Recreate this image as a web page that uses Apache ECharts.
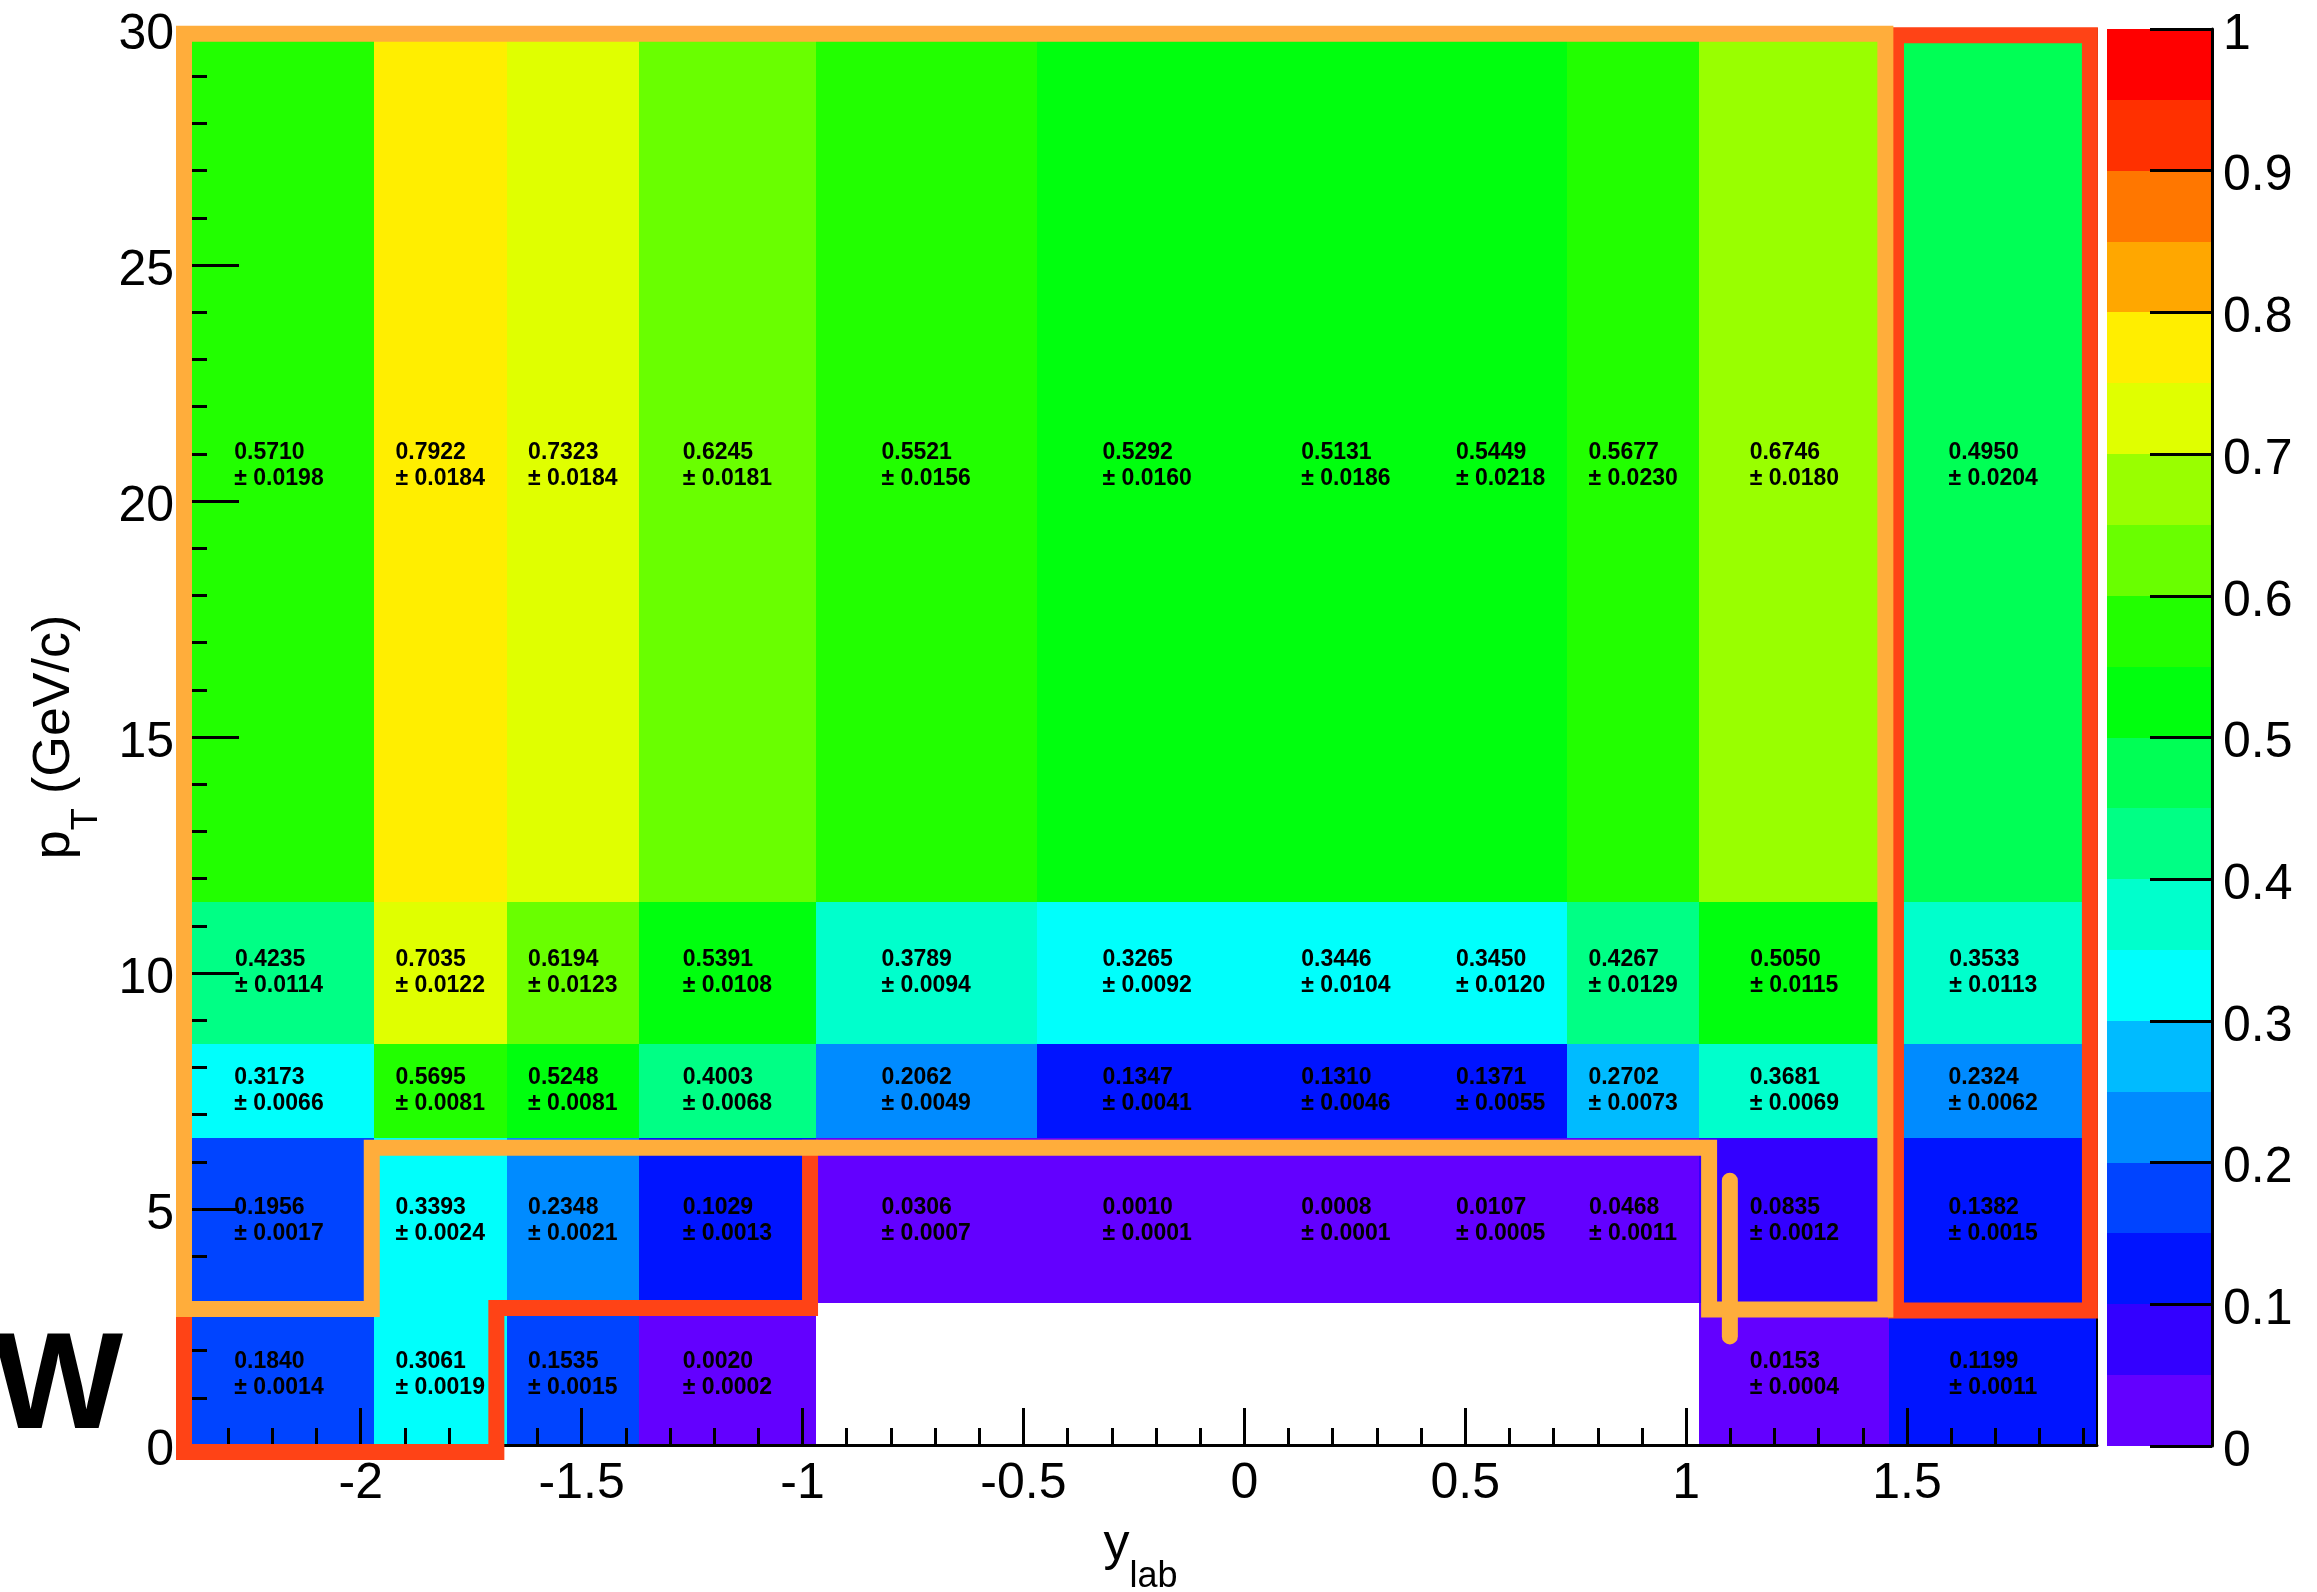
<!DOCTYPE html>
<html><head><meta charset="utf-8">
<script src="https://cdn.jsdelivr.net/npm/echarts@6/dist/echarts.min.js"></script>
<style>html,body{margin:0;padding:0;background:#fff}#c{width:2317px;height:1592px}</style>
</head><body><div id="c"></div>
<script>
// ---- data ----
const yLabEdges = [-2.40, -1.97, -1.67, -1.37, -0.97, -0.47, 0.03, 0.43, 0.73, 1.03, 1.46, 1.93];
const ptEdges = [0, 3, 6.5, 8.5, 11.5, 30];
// rows ordered from low pT to high pT; null = empty bin
const effPt0to3    = [0.1840, 0.3061, 0.1535, 0.0020, null, null, null, null, null, 0.0153, 0.1199];
const errPt0to3    = [0.0014, 0.0019, 0.0015, 0.0002, null, null, null, null, null, 0.0004, 0.0011];
const effPt3to6p5  = [0.1956, 0.3393, 0.2348, 0.1029, 0.0306, 0.0010, 0.0008, 0.0107, 0.0468, 0.0835, 0.1382];
const errPt3to6p5  = [0.0017, 0.0024, 0.0021, 0.0013, 0.0007, 0.0001, 0.0001, 0.0005, 0.0011, 0.0012, 0.0015];
const effPt6p5to8p5 = [0.3173, 0.5695, 0.5248, 0.4003, 0.2062, 0.1347, 0.1310, 0.1371, 0.2702, 0.3681, 0.2324];
const errPt6p5to8p5 = [0.0066, 0.0081, 0.0081, 0.0068, 0.0049, 0.0041, 0.0046, 0.0055, 0.0073, 0.0069, 0.0062];
const effPt8p5to11p5 = [0.4235, 0.7035, 0.6194, 0.5391, 0.3789, 0.3265, 0.3446, 0.3450, 0.4267, 0.5050, 0.3533];
const errPt8p5to11p5 = [0.0114, 0.0122, 0.0123, 0.0108, 0.0094, 0.0092, 0.0104, 0.0120, 0.0129, 0.0115, 0.0113];
const effPt11p5to30 = [0.5710, 0.7922, 0.7323, 0.6245, 0.5521, 0.5292, 0.5131, 0.5449, 0.5677, 0.6746, 0.4950];
const errPt11p5to30 = [0.0198, 0.0184, 0.0184, 0.0181, 0.0156, 0.0160, 0.0186, 0.0218, 0.0230, 0.0180, 0.0204];

const xMajorTicks = [-2, -1.5, -1, -0.5, 0, 0.5, 1, 1.5];
const xMinorTicks = [-2.3,-2.2,-2.1,-1.9,-1.8,-1.7,-1.6,-1.4,-1.3,-1.2,-1.1,-0.9,-0.8,-0.7,-0.6,-0.4,-0.3,-0.2,-0.1,
                     0.1,0.2,0.3,0.4,0.6,0.7,0.8,0.9,1.1,1.2,1.3,1.4,1.6,1.7,1.8,1.9];
const zLevels = [0,0.05,0.1,0.15,0.2,0.25,0.3,0.35,0.4,0.45,0.5,0.55,0.6,0.65,0.7,0.75,0.8,0.85,0.9,0.95,1];

// outlines (data coordinates: [y_lab, pT])
const orangeOutline = [[-2.4,29.9],[1.451,29.9],[1.451,2.87],[1.052,2.87],[1.052,6.3],[-1.975,6.3],[-1.975,2.88],[-2.4,2.88],[-2.4,29.9]];
const orangeSpur = [[1.099,5.6],[1.099,2.3]];
const redOutlineFwd = [[1.475,29.87],[1.914,29.87],[1.914,2.85],[1.475,2.85],[1.475,29.87]];
const redOutlineBwd = [[-2.4,2.85],[-2.4,-0.15],[-1.693,-0.15],[-1.693,2.9],[-0.983,2.9],[-0.983,6.3]];

// ---- styles ----
const palette = ['#6300ff','#3300ff','#0014ff','#0044ff','#008bff','#00bbff','#00fffc','#00ffcc','#00ff85','#00ff55',
                 '#00ff0e','#22ff00','#69ff00','#99ff00','#e0ff00','#ffee00','#ffa700','#ff7700','#ff3000','#ff0000'];
const FONT = '"Liberation Sans", Arial, Helvetica, sans-serif';
const CELL_FONT = 'bold 23px "Liberation Sans", Arial, sans-serif';

const effRows = [effPt0to3, effPt3to6p5, effPt6p5to8p5, effPt8p5to11p5, effPt11p5to30];
const errRows = [errPt0to3, errPt3to6p5, errPt6p5to8p5, errPt8p5to11p5, errPt11p5to30];
const cellData = [];
effRows.forEach((row, j) => row.forEach((v, i) => {
  if (v == null) return;
  cellData.push([yLabEdges[i], yLabEdges[i + 1], ptEdges[j], ptEdges[j + 1], v, errRows[j][i]]);
}));
const barData = [];
for (let i = 0; i < zLevels.length - 1; i++) barData.push([0, 1, zLevels[i], zLevels[i + 1], i]);

function colorFor(v) {
  for (let i = 0; i < zLevels.length - 1; i++) if (v >= zLevels[i] && v < zLevels[i + 1]) return palette[i];
  return palette[palette.length - 1];
}
const mctx = document.createElement('canvas').getContext('2d');
mctx.font = CELL_FONT;
function measure(t) { return mctx.measureText(t).width; }

function rectFrom(a, b) {
  const x0 = Math.round(a[0]), x1 = Math.round(b[0]), y0 = Math.round(a[1]), y1 = Math.round(b[1]);
  return {x: x0, y: y1, width: x1 - x0, height: y0 - y1};
}
function renderCell(params, api) {
  const a = api.coord([api.value(0), api.value(2)]);
  const b = api.coord([api.value(1), api.value(3)]);
  const v = api.value(4), e = api.value(5);
  const cx = (a[0] + b[0]) / 2, cy = (a[1] + b[1]) / 2;
  const t1 = v.toFixed(4), t2 = '\u00b1 ' + e.toFixed(4);
  const lx = cx - measure(t2) / 2;
  return {type: 'group', children: [
    {type: 'rect', shape: rectFrom(a, b), style: {fill: colorFor(v)}},
    {type: 'text', style: {text: t1, x: lx, y: cy - 13, font: CELL_FONT, fill: '#000', align: 'left', verticalAlign: 'middle'}},
    {type: 'text', style: {text: t2, x: lx, y: cy + 13, font: CELL_FONT, fill: '#000', align: 'left', verticalAlign: 'middle'}}
  ]};
}
function renderBar(params, api) {
  const a = api.coord([api.value(0), api.value(2)]);
  const b = api.coord([api.value(1), api.value(3)]);
  return {type: 'rect', shape: rectFrom(a, b), style: {fill: palette[api.value(4)]}};
}

const richTitle = {
  m: {fontSize: 52, lineHeight: 52, verticalAlign: 'top', fontFamily: FONT, color: '#000'},
  s: {fontSize: 36, lineHeight: 36, verticalAlign: 'top', padding: [40, 0, 0, 0], fontFamily: FONT, color: '#000'}
};

const chart = echarts.init(document.getElementById('c'), null, {renderer: 'canvas'});
chart.setOption({
  animation: false,
  backgroundColor: '#fff',
  grid: [
    {left: 184, right: 220, top: 29, bottom: 147, containLabel: false, outerBoundsMode: 'none'},
    {left: 2107, right: 105, top: 29, bottom: 146, containLabel: false, outerBoundsMode: 'none'}
  ],
  xAxis: [
    {gridIndex: 0, type: 'value', min: -2.4, max: 1.93, position: 'bottom', z: 5,
     axisLine: {show: true, onZero: false, lineStyle: {color: '#000', width: 3}},
     axisTick: {show: true, inside: true, length: 37, customValues: xMajorTicks, lineStyle: {color: '#000', width: 3}},
     axisLabel: {show: true, customValues: xMajorTicks, margin: 14, fontSize: 50, color: '#000', fontFamily: FONT},
     splitLine: {show: false},
     name: '{m|y}{s|lab}', nameLocation: 'middle', nameGap: 74,
     nameTextStyle: {fontFamily: FONT, color: '#000', rich: richTitle}},
    {gridIndex: 0, type: 'value', min: -2.4, max: 1.93, position: 'bottom', z: 5,
     axisLine: {show: false, onZero: false},
     axisTick: {show: true, inside: true, length: 17, customValues: xMinorTicks, lineStyle: {color: '#000', width: 3}},
     axisLabel: {show: false}, splitLine: {show: false}},
    {gridIndex: 0, type: 'value', min: -2.4, max: 1.93, position: 'top', z: 5,
     axisLine: {show: true, onZero: false, lineStyle: {color: '#000', width: 2}},
     axisTick: {show: false}, axisLabel: {show: false}, splitLine: {show: false}},
    {gridIndex: 1, type: 'value', min: 0, max: 1, show: false}
  ],
  yAxis: [
    {gridIndex: 0, type: 'value', min: 0, max: 30, interval: 5, position: 'left', z: 5,
     axisLine: {show: true, onZero: false, lineStyle: {color: '#000', width: 3}},
     axisTick: {show: true, inside: true, length: 55, lineStyle: {color: '#000', width: 3}},
     minorTick: {show: true, splitNumber: 5, length: 23, lineStyle: {color: '#000', width: 3}},
     axisLabel: {margin: 10, fontSize: 50, color: '#000', fontFamily: FONT, verticalAlign: 'top', lineHeight: 12},
     splitLine: {show: false}, minorSplitLine: {show: false},
     name: '{m|p}{s|T}{m| (GeV/c)}', nameLocation: 'middle', nameGap: 103, nameRotate: 90,
     nameTextStyle: {fontFamily: FONT, color: '#000', rich: richTitle}},
    {gridIndex: 0, type: 'value', min: 0, max: 30, interval: 5, position: 'right', z: 5,
     axisLine: {show: true, onZero: false, lineStyle: {color: '#000', width: 2}},
     axisTick: {show: false}, axisLabel: {show: false}, splitLine: {show: false}},
    {gridIndex: 1, type: 'value', min: 0, max: 1, interval: 0.1, position: 'right', z: 5,
     axisLine: {show: true, onZero: false, lineStyle: {color: '#000', width: 3}},
     axisTick: {show: true, inside: true, length: 62, lineStyle: {color: '#000', width: 3}},
     axisLabel: {margin: 11, fontSize: 50, color: '#000', fontFamily: FONT, verticalAlign: 'top', lineHeight: 12},
     splitLine: {show: false}}
  ],
  series: [
    {type: 'custom', xAxisIndex: 0, yAxisIndex: 0, z: 2, renderItem: renderCell, data: cellData,
     encode: {x: [0, 1], y: [2, 3]}, silent: true},
    {type: 'custom', xAxisIndex: 3, yAxisIndex: 2, z: 2, renderItem: renderBar, data: barData,
     encode: {x: [0, 1], y: [2, 3]}, silent: true},
    {type: 'line', xAxisIndex: 0, yAxisIndex: 0, data: redOutlineFwd, showSymbol: false, symbol: 'none', clip: false, z: 10, silent: true,
     lineStyle: {color: '#ff4316', width: 16, cap: 'square', join: 'miter'}},
    {type: 'line', xAxisIndex: 0, yAxisIndex: 0, data: redOutlineBwd, showSymbol: false, symbol: 'none', clip: false, z: 10, silent: true,
     lineStyle: {color: '#ff4316', width: 16, cap: 'square', join: 'miter'}},
    {type: 'line', xAxisIndex: 0, yAxisIndex: 0, data: orangeOutline, showSymbol: false, symbol: 'none', clip: false, z: 11, silent: true,
     lineStyle: {color: '#ffad3b', width: 16, cap: 'square', join: 'miter'}},
    {type: 'line', xAxisIndex: 0, yAxisIndex: 0, data: orangeSpur, showSymbol: false, symbol: 'none', clip: false, z: 11, silent: true,
     lineStyle: {color: '#ffad3b', width: 16, cap: 'round', join: 'miter'}}
  ],
  graphic: [
    {type: 'text', z: 20, style: {text: 'W', x: 123, y: 1390, font: 'bold 137px "Liberation Sans", Arial, sans-serif', fill: '#000', align: 'right', verticalAlign: 'middle'}}
  ]
});
</script>
</body></html>
